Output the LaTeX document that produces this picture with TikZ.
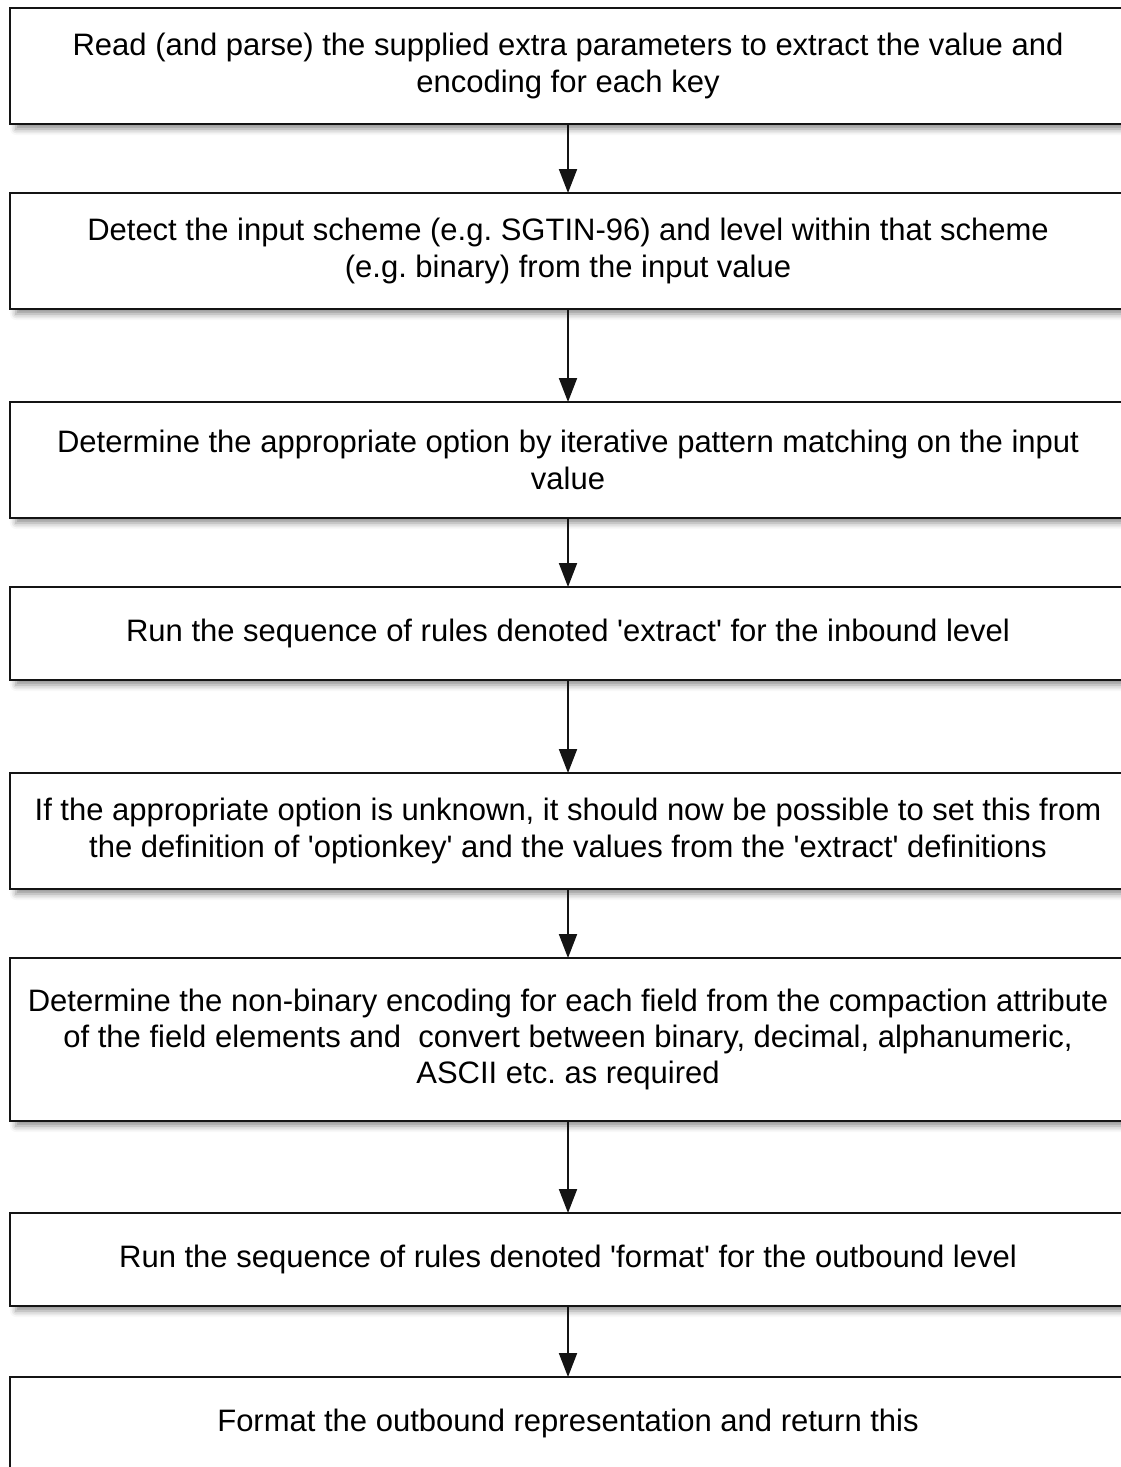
\documentclass[tikz,border=0pt]{standalone}
\usepackage{fontspec}
\setmainfont{Liberation Sans}[Ligatures=TeXOff]
\usetikzlibrary{arrows.meta, positioning, shadows.blur}
\definecolor{linegray}{RGB}{20,20,20}
\tikzset{
  stepbox/.style={rectangle, draw=linegray, line width=1.2pt, fill=white,
                  align=center, minimum width=558pt, inner sep=4pt, outer sep=0pt,
                  font=\fontsize{15.5}{18.2}\selectfont\frenchspacing,
                  blur shadow={shadow xshift=3pt, shadow yshift=-2.5pt,
                               shadow blur radius=3pt, shadow opacity=45}},
  flowarrow/.style={-{Triangle[length=12pt, width=9pt]}, line width=1pt, draw=linegray},
}

\begin{document}
\begin{tikzpicture}
  \useasboundingbox (0pt,0pt) rectangle (560pt,-733.5pt);

  \node[stepbox, minimum height=58pt, anchor=north west] (readparams) at (5pt,-4pt)
    {Read (and parse) the supplied extra parameters to extract the value and\\encoding for each key};
  \node[stepbox, minimum height=58pt, below=34.5pt of readparams] (detectscheme)
    {Detect the input scheme (e.g. SGTIN-96) and level within that scheme\\(e.g. binary) from the input value};
  \node[stepbox, minimum height=58pt, below=46.5pt of detectscheme] (findoption)
    {Determine the appropriate option by iterative pattern matching on the input\\value};
  \node[stepbox, minimum height=46.5pt, below=34.5pt of findoption] (runextract)
    {Run the sequence of rules denoted 'extract' for the inbound level};
  \node[stepbox, minimum height=58pt, below=46.5pt of runextract] (setoption)
    {If the appropriate option is unknown, it should now be possible to set this from\\the definition of 'optionkey' and the values from the 'extract' definitions};
  \node[stepbox, minimum height=81.5pt, below=34.5pt of setoption] (convertfields)
    {Determine the non-binary encoding for each field from the compaction attribute\\of the field elements and\ \ convert between binary, decimal, alphanumeric,\\ASCII etc. as required};
  \node[stepbox, minimum height=46.5pt, below=46pt of convertfields] (runformat)
    {Run the sequence of rules denoted 'format' for the outbound level};
  \node[stepbox, minimum height=46.5pt, below=35.5pt of runformat] (formatout)
    {Format the outbound representation and return this};

  % Connectors
  \draw[flowarrow] (readparams) -- (detectscheme);
  \draw[flowarrow] (detectscheme) -- (findoption);
  \draw[flowarrow] (findoption) -- (runextract);
  \draw[flowarrow] (runextract) -- (setoption);
  \draw[flowarrow] (setoption) -- (convertfields);
  \draw[flowarrow] (convertfields) -- (runformat);
  \draw[flowarrow] (runformat) -- (formatout);
\end{tikzpicture}
\end{document}
